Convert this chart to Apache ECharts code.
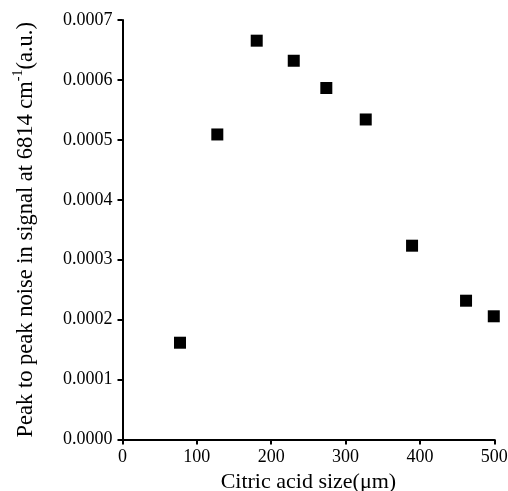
<!DOCTYPE html>
<html><head><meta charset="utf-8">
<script src="https://cdn.jsdelivr.net/npm/echarts@6/dist/echarts.min.js"></script>
<style>html,body{margin:0;padding:0;background:#fff}#c{width:508px;height:491px}</style>
</head><body><div id="c"></div>
<script>
const sizes = [77.3, 127.5, 180.5, 230.3, 274.1, 327.1, 389.4, 462, 499.3];
const noise = [0.0001615, 0.000509, 0.0006655, 0.000632, 0.0005865, 0.000534, 0.0003234, 0.0002316, 0.0002056];
const xTitle = 'Citric acid size(\u03bcm)';
const yTitleA = 'Peak to peak noise in signal at 6814 cm';
const yTitleSup = '-1';
const yTitleB = '(a.u.)';

const font = 'Liberation Serif';
const chart = echarts.init(document.getElementById('c'), null, {renderer: 'canvas'});
chart.setOption({
  animation: false,
  backgroundColor: '#fff',
  grid: {left: 122.5, top: 20, right: 13.7, bottom: 51.5, containLabel: false, outerBoundsMode: 'none'},
  xAxis: {
    type: 'value', min: 0, max: 500, interval: 100,
    name: xTitle, nameLocation: 'middle', nameGap: 30,
    nameTextStyle: {fontFamily: font, fontSize: 22, color: '#000'},
    axisLine: {onZero: false, lineStyle: {color: '#000', width: 2}},
    axisTick: {inside: false, length: 5, lineStyle: {color: '#000', width: 2}},
    axisLabel: {fontFamily: font, fontSize: 18, color: '#000', margin: 9},
    splitLine: {show: false}
  },
  yAxis: {
    type: 'value', min: 0, max: 0.0007, interval: 0.0001,
    name: '{a|' + yTitleA + '}{s|' + yTitleSup + '}{a|' + yTitleB + '}',
    nameLocation: 'middle', nameGap: 85, nameRotate: 90,
    nameTextStyle: {fontFamily: font, fontSize: 22, color: '#000',
      rich: {a: {fontFamily: font, fontSize: 22.5, color: '#000', lineHeight: 26, verticalAlign: 'bottom'},
             s: {fontFamily: font, fontSize: 14, color: '#000', lineHeight: 26, verticalAlign: 'top'}}},
    axisLine: {onZero: false, lineStyle: {color: '#000', width: 2}},
    axisTick: {inside: false, length: 5, lineStyle: {color: '#000', width: 2}},
    axisLabel: {fontFamily: font, fontSize: 18, color: '#000', margin: 10,
      formatter: v => v.toFixed(4)},
    splitLine: {show: false}
  },
  series: [{
    type: 'scatter', symbol: 'rect', symbolSize: 12,
    itemStyle: {color: '#000', opacity: 1},
    data: sizes.map((x, i) => [x, noise[i]])
  }]
});
</script></body></html>
